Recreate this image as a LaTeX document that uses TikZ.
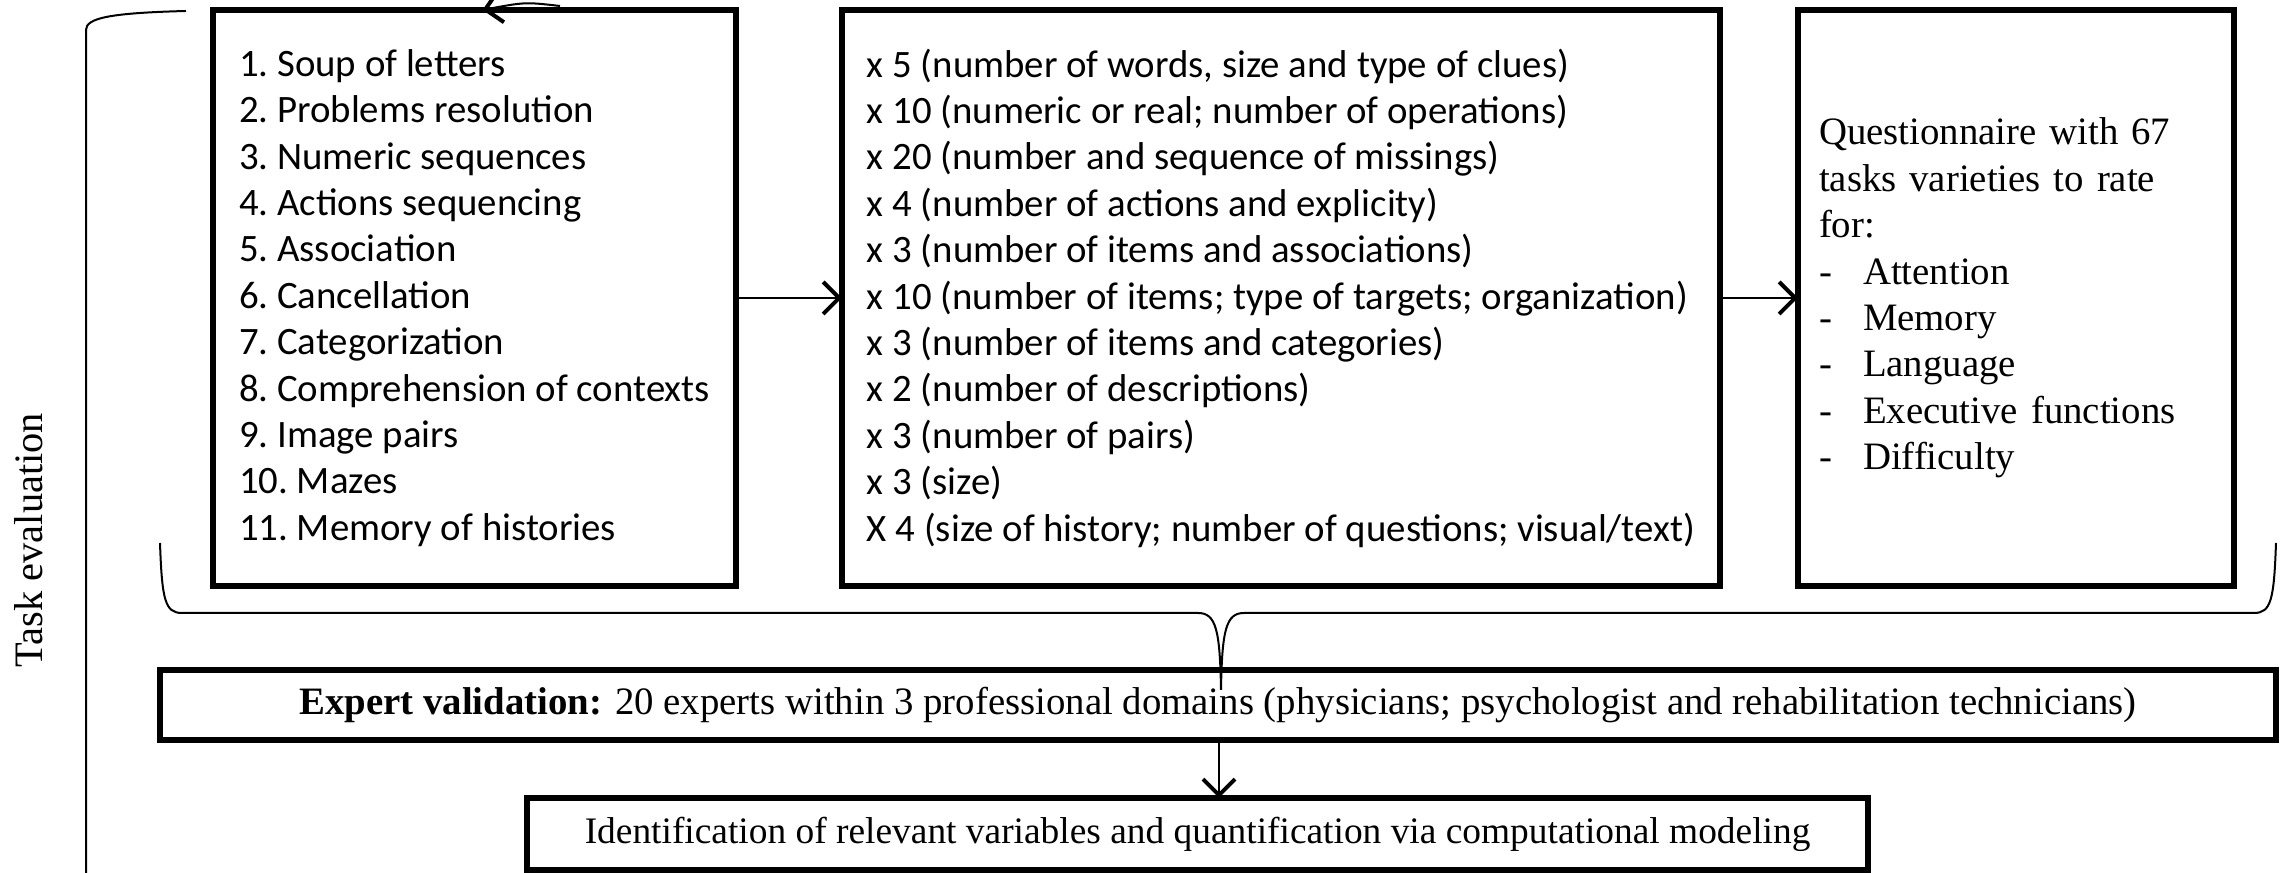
\documentclass[tikz,border=0pt]{standalone}
\usepackage{fontspec}
\setmainfont{Liberation Serif}
\newfontfamily\calibri{Carlito}
\usetikzlibrary{arrows.meta,positioning}

\begin{document}
\begin{tikzpicture}[x=0.25pt,y=-0.25pt,
    box/.style={draw,line width=1.4pt,inner ysep=0pt,outer sep=0pt},
    sansbox/.style={box,font=\calibri\frenchspacing\fontsize{9.7}{11.6}\selectfont,align=left},
    serifbox/.style={box,font=\fontsize{9.7}{11.6}\selectfont},
    arr/.style={-{Straight Barb[length=4pt,width=8pt,line width=1pt]},line width=0.5pt},
    thinline/.style={line width=0.5pt}]
  \useasboundingbox (0,0) rectangle (2285,873);
  % the three boxes on top
  \node[sansbox,minimum width=130.75pt,minimum height=144pt] (tasks) at (474.5,298) {%
    1. Soup of letters\\ 2. Problems resolution\\ 3. Numeric sequences\\ 4. Actions sequencing\\
    5. Association\\ 6. Cancellation\\ 7. Categorization\\ 8. Comprehension of contexts\\
    9. Image pairs\\ 10. Mazes\\ 11. Memory of histories};
  \node[sansbox,minimum width=219.5pt,minimum height=144pt,right=26.5pt of tasks] (variants) {%
    x 5 (number of words, size and type of clues)\\ x 10 (numeric or real; number of operations)\\
    x 20 (number and sequence of missings)\\ x 4 (number of actions and explicity)\\
    x 3 (number of items and associations)\\ x 10 (number of items; type of targets; organization)\\
    x 3 (number of items and categories)\\ x 2 (number of descriptions)\\
    x 3 (number of pairs)\\ x 3 (size)\\ X 4 (size of history; number of questions; visual/text)};
  \node[serifbox,align=left,minimum width=109pt,minimum height=144pt,inner xsep=5.25pt,text width=98.5pt,right=19.5pt of variants] (quest) {%
    Questionnaire with 67\\ tasks varieties to rate\\ for:\\
    \makebox[11pt][l]{-}Attention\\ \makebox[11pt][l]{-}Memory\\
    \makebox[11pt][l]{-}Language\\ \makebox[11pt][l]{-}Executive functions\\
    \makebox[11pt][l]{-}Difficulty};
  % the two boxes below
  \node[serifbox,minimum width=529pt,minimum height=17.5pt] (expert) at (1218,705) {%
    \textbf{Expert validation:} 20 experts within 3 professional domains (physicians; psychologist and rehabilitation technicians)};
  \node[serifbox,font=\fontsize{9.35}{11.6}\selectfont,minimum width=335.25pt,minimum height=18pt] (ident) at (1197.5,834) {%
    Identification of relevant variables and quantification via computational modeling};
  % side label
  \node[rotate=90,font=\fontsize{10.1}{11.6}\selectfont] (tasklabel) at (29,540) {Task evaluation};
  % helper points
  \coordinate (brtop) at (186,11);
  \coordinate (brbot) at (86,873);
  \coordinate (braceL) at (160,543);
  \coordinate (braceR) at (2276,543);
  \coordinate (bracetip) at (1221,690);
  \coordinate (exit) at (1219,873);
  \coordinate (loop) at (560,6);
  % bracket and brace
  \draw[thinline] (brtop) .. controls (110,13) and (86,18) .. (86,30) -- (brbot);
  \draw[thinline] (braceL) .. controls (162,600) and (165,613) .. (182,613) -- (1198,613)
    .. controls (1216,613) and (1220,630) .. (bracetip);
  \draw[thinline] (braceR) .. controls (2274,600) and (2271,613) .. (2254,613) -- (1244,613)
    .. controls (1226,613) and (1222,630) .. (bracetip);
  % arrows
  \draw[arr] (tasks) -- (variants);
  \draw[arr] (variants) -- (quest);
  \draw[arr] (expert.south -| exit) -- (ident.north -| exit);
  \draw[thinline] (ident.south -| exit) -- (exit);
  \draw[arr] (loop) .. controls (525,2) .. ([xshift=2pt]tasks.north);
\end{tikzpicture}
\end{document}
